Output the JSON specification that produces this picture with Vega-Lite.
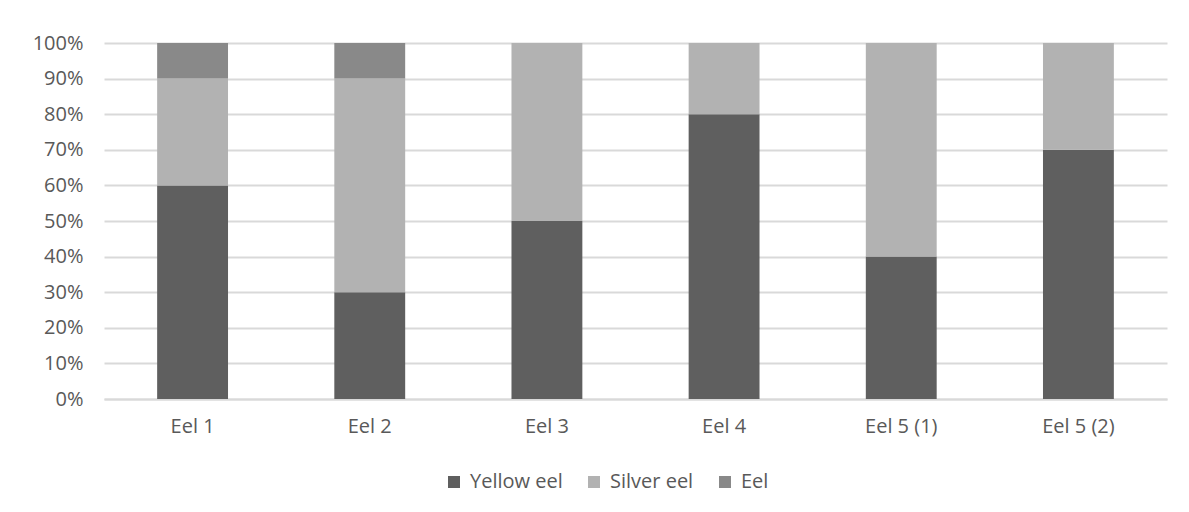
{
  "$schema": "https://vega.github.io/schema/vega-lite/v6.json",
  "width": 1063,
  "height": 356,
  "autosize": {"type": "none"},
  "padding": {"left": 104, "top": 43, "right": 22, "bottom": 113},
  "background": "white",
  "config": {
    "view": {"stroke": null},
    "font": "Open Sans",
    "axis": {"labelColor": "#595959", "labelFont": "Open Sans", "labelFontSize": 20}
  },
  "data": {
    "values": [
      {"eel": "Eel 1", "type": "Yellow eel", "pct": 60},
      {"eel": "Eel 1", "type": "Silver eel", "pct": 30},
      {"eel": "Eel 1", "type": "Eel", "pct": 10},
      {"eel": "Eel 2", "type": "Yellow eel", "pct": 30},
      {"eel": "Eel 2", "type": "Silver eel", "pct": 60},
      {"eel": "Eel 2", "type": "Eel", "pct": 10},
      {"eel": "Eel 3", "type": "Yellow eel", "pct": 50},
      {"eel": "Eel 3", "type": "Silver eel", "pct": 50},
      {"eel": "Eel 3", "type": "Eel", "pct": 0},
      {"eel": "Eel 4", "type": "Yellow eel", "pct": 80},
      {"eel": "Eel 4", "type": "Silver eel", "pct": 20},
      {"eel": "Eel 4", "type": "Eel", "pct": 0},
      {"eel": "Eel 5 (1)", "type": "Yellow eel", "pct": 40},
      {"eel": "Eel 5 (1)", "type": "Silver eel", "pct": 60},
      {"eel": "Eel 5 (1)", "type": "Eel", "pct": 0},
      {"eel": "Eel 5 (2)", "type": "Yellow eel", "pct": 70},
      {"eel": "Eel 5 (2)", "type": "Silver eel", "pct": 30},
      {"eel": "Eel 5 (2)", "type": "Eel", "pct": 0}
    ]
  },
  "transform": [
    {"calculate": "indexof(['Yellow eel','Silver eel','Eel'], datum.type)", "as": "stackOrder"}
  ],
  "mark": {"type": "bar"},
  "encoding": {
    "x": {
      "field": "eel",
      "type": "nominal",
      "sort": null,
      "scale": {"paddingInner": 0.6, "paddingOuter": 0.3},
      "axis": {"title": null, "labelAngle": 0, "ticks": false, "domain": true, "domainColor": "#d9d9d9", "domainWidth": 2, "labelPadding": 17}
    },
    "y": {
      "field": "pct",
      "type": "quantitative",
      "stack": "normalize",
      "scale": {"domain": [0, 1], "nice": false},
      "axis": {
        "title": null,
        "format": ".0%",
        "values": [0, 0.1, 0.2, 0.3, 0.4, 0.5, 0.6, 0.7, 0.8, 0.9, 1],
        "grid": true,
        "gridColor": "#d9d9d9",
        "gridWidth": 2,
        "ticks": false,
        "domain": false,
        "labelPadding": 21
      }
    },
    "color": {
      "field": "type",
      "type": "nominal",
      "scale": {"domain": ["Yellow eel", "Silver eel", "Eel"], "range": ["#5f5f5f", "#b2b2b2", "#898989"]},
      "legend": {
        "title": null,
        "orient": "none",
        "direction": "horizontal",
        "legendX": 340,
        "legendY": 429,
        "symbolType": "square",
        "symbolSize": 144,
        "symbolStrokeWidth": 0,
        "labelFontSize": 20,
        "labelColor": "#595959",
        "labelFont": "Open Sans",
        "columnPadding": 21,
        "labelOffset": 6
      }
    },
    "order": {"field": "stackOrder", "type": "quantitative"}
  }
}
